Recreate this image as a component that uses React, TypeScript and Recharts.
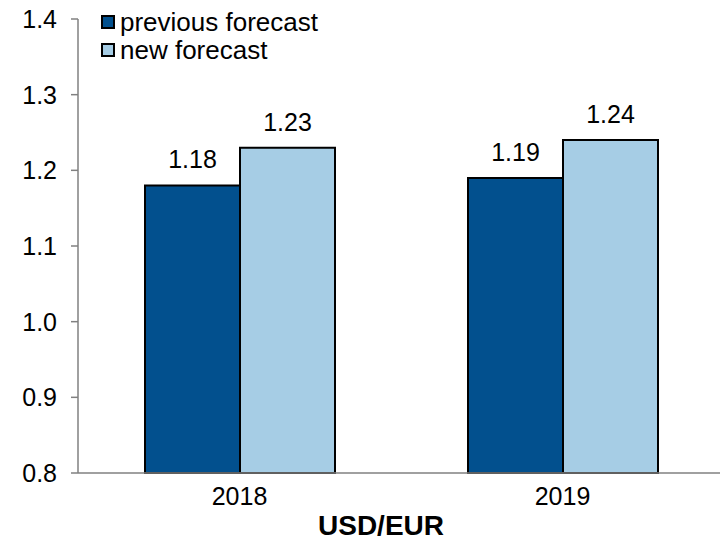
import { BarChart, Bar, XAxis, YAxis, LabelList } from 'recharts'

const years = ['2018', '2019']
const previousForecast = [1.18, 1.19]
const newForecast = [1.23, 1.24]
const yTicks = [0.8, 0.9, 1.0, 1.1, 1.2, 1.3, 1.4]

const series = [
  { key: 'previous', name: 'previous forecast', color: '#02508E' },
  { key: 'next', name: 'new forecast', color: '#A6CDE5' },
]

const FONT = '"Liberation Sans", Arial, sans-serif'

// legend is drawn as an overlay so it doesn't push the plot area down
const LegendBox = () => (
  <div
    style={{
      position: 'absolute',
      left: 101,
      top: 8,
      fontFamily: FONT,
      fontSize: 26,
      color: '#000',
      lineHeight: '28px',
    }}
  >
    {series.map((s) => (
      <div key={s.key} style={{ display: 'flex', alignItems: 'center', height: 28 }}>
        <span
          style={{
            display: 'inline-block',
            width: 10,
            height: 10,
            background: s.color,
            border: '2px solid #000',
            marginRight: 5,
          }}
        />
        <span>{s.name}</span>
      </div>
    ))}
  </div>
)

export default function App() {
  const data = years.map((year, i) => ({
    year,
    previous: previousForecast[i],
    next: newForecast[i],
  }))

  return (
    <div style={{ position: 'absolute', left: 0, top: 0, width: 720, height: 542, overflow: 'hidden', background: '#fff' }}>
      <BarChart
        width={724}
        height={542}
        data={data}
        margin={{ top: 19, right: 0, left: 0, bottom: 0 }}
        barGap={0}
        style={{ fontFamily: FONT }}
      >
        <XAxis
          dataKey="year"
          height={69}
          axisLine={{ stroke: '#808080', strokeWidth: 1.5 }}
          tickLine={false}
          tickMargin={8}
          tick={{ fill: '#000', fontSize: 25 }}
          label={{
            value: 'USD/EUR',
            position: 'insideBottom',
            offset: 7,
            dx: -20,
            fill: '#000',
            fontSize: 28,
            fontWeight: 'bold',
          }}
        />
        <YAxis
          width={78}
          domain={[0.8, 1.4]}
          ticks={yTicks}
          interval={0}
          tickFormatter={(v: number) => v.toFixed(1)}
          axisLine={{ stroke: '#808080', strokeWidth: 1.5 }}
          tickLine={{ stroke: '#808080', strokeWidth: 1.5 }}
          tickSize={7}
          tickMargin={14}
          tick={{ fill: '#000', fontSize: 25 }}
        />
        {series.map((s) => (
          <Bar
            key={s.key}
            dataKey={s.key}
            name={s.name}
            fill={s.color}
            stroke="#000"
            strokeWidth={2}
            barSize={95}
            isAnimationActive={false}
          >
            <LabelList
              dataKey={s.key}
              position="top"
              offset={17}
              fill="#000"
              fontSize={25}
              formatter={(v: number) => v.toFixed(2)}
            />
          </Bar>
        ))}
      </BarChart>
      <LegendBox />
    </div>
  )
}
